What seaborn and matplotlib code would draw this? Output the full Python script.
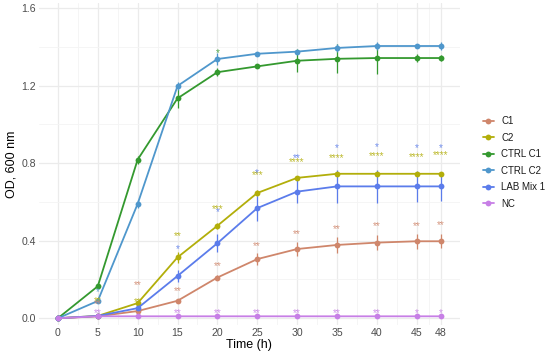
import matplotlib
matplotlib.use("Agg")
import matplotlib.pyplot as plt
import seaborn as sns
import pandas as pd
import numpy as np

sns.set_theme(style="whitegrid")
plt.rcParams['font.family'] = ['Liberation Sans', 'DejaVu Sans']

hours = [0, 5, 10, 15, 20, 25, 30, 35, 40, 45, 48]
series_names = ["C1", "C2", "CTRL C1", "CTRL C2", "LAB Mix 1", "NC"]

c1 = [0.0, 0.01, 0.037, 0.09, 0.21, 0.305, 0.357, 0.378, 0.39, 0.397, 0.397]
c2 = [0.0, 0.012, 0.078, 0.314, 0.477, 0.646, 0.724, 0.745, 0.745, 0.745, 0.745]
ctrl_c1 = [0.0, 0.165, 0.818, 1.134, 1.269, 1.299, 1.328, 1.338, 1.342, 1.342, 1.342]
ctrl_c2 = [0.0, 0.089, 0.59, 1.198, 1.337, 1.364, 1.375, 1.394, 1.404, 1.404, 1.404]
lab_mix = [0.0, 0.012, 0.052, 0.218, 0.387, 0.568, 0.653, 0.68, 0.68, 0.68, 0.68]
nc = [0.0, 0.01, 0.01, 0.01, 0.01, 0.01, 0.01, 0.01, 0.01, 0.01, 0.01]

c1_sd = [0.0, 0.003, 0.005, 0.008, 0.012, 0.03, 0.035, 0.04, 0.04, 0.038, 0.035]
c2_sd = [0.0, 0.003, 0.008, 0.03, 0.015, 0.015, 0.01, 0.01, 0.01, 0.01, 0.01]
ctrl_c1_sd = [0.0, 0.01, 0.02, 0.05, 0.02, 0.01, 0.06, 0.075, 0.08, 0.02, 0.015]
ctrl_c2_sd = [0.0, 0.01, 0.02, 0.02, 0.03, 0.01, 0.01, 0.02, 0.02, 0.01, 0.02]
lab_mix_sd = [0.0, 0.003, 0.01, 0.03, 0.045, 0.065, 0.06, 0.085, 0.085, 0.08, 0.075]
nc_sd = [0.0, 0.002, 0.002, 0.002, 0.002, 0.002, 0.002, 0.002, 0.002, 0.002, 0.002]

palette = {"C1": "#CF866B", "C2": "#B2AE0A", "CTRL C1": "#34992F",
           "CTRL C2": "#4F97CC", "LAB Mix 1": "#5B7CEB", "NC": "#C77FE6"}

# significance annotations: (series, hour, y, label)
sig_series = ["NC", "C1", "C2", "CTRL C2",
              "C2", "C1",
              "C2", "LAB Mix 1", "C1", "NC",
              "C2", "LAB Mix 1", "C1", "NC", "CTRL C1",
              "C2", "LAB Mix 1", "C1", "NC",
              "C2", "LAB Mix 1", "C1", "NC",
              "C2", "LAB Mix 1", "C1", "NC",
              "C2", "LAB Mix 1", "C1", "NC",
              "C2", "LAB Mix 1", "C1", "NC",
              "C2", "LAB Mix 1", "C1", "NC"]
sig_hours = [5, 5, 5, 5,
             10, 10,
             15, 15, 15, 15,
             20, 20, 20, 20, 20,
             25, 25, 25, 25,
             30, 30, 30, 30,
             35, 35, 35, 35,
             40, 40, 40, 40,
             45, 45, 45, 45,
             48, 48, 48, 48]
sig_y = [0.04, 0.085, 0.105, 0.15,
         0.095, 0.185,
         0.44, 0.37, 0.155, 0.04,
         0.577, 0.56, 0.283, 0.04, 1.38,
         0.75, 0.765, 0.387, 0.04,
         0.82, 0.84, 0.45, 0.04,
         0.84, 0.89, 0.473, 0.04,
         0.85, 0.896, 0.49, 0.04,
         0.846, 0.89, 0.49, 0.04,
         0.853, 0.89, 0.493, 0.04]
sig_labels = ["**", "**", "**", "*",
              "**", "**",
              "**", "*", "**", "**",
              "***", "*", "**", "**", "*",
              "***", "*", "**", "**",
              "****", "**", "**", "**",
              "****", "*", "**", "**",
              "****", "*", "**", "**",
              "****", "*", "**", "*",
              "****", "*", "**", "*"]

values = {"C1": c1, "C2": c2, "CTRL C1": ctrl_c1, "CTRL C2": ctrl_c2,
          "LAB Mix 1": lab_mix, "NC": nc}
sds = {"C1": c1_sd, "C2": c2_sd, "CTRL C1": ctrl_c1_sd, "CTRL C2": ctrl_c2_sd,
       "LAB Mix 1": lab_mix_sd, "NC": nc_sd}

rows = []
for s in series_names:
    for h, v, e in zip(hours, values[s], sds[s]):
        rows.append({"Time": h, "OD": v, "sd": e, "Group": s})
df = pd.DataFrame(rows)

fig = plt.figure(figsize=(5.5, 3.51), dpi=100)
ax = fig.add_axes([0.0705, 0.074, 0.7655, 0.917])
ax.set_facecolor("white")

sns.lineplot(data=df, x="Time", y="OD", hue="Group", hue_order=series_names,
             palette=palette, marker="o", markersize=4.2, markeredgewidth=0,
             linewidth=1.3, ax=ax, errorbar=None, legend=True)

for s in series_names:
    sub = df[df.Group == s]
    ax.errorbar(sub.Time, sub.OD, yerr=sub.sd, fmt="none", ecolor=palette[s],
                elinewidth=0.9, capsize=0, zorder=1.5)

for s, h, y, lab in zip(sig_series, sig_hours, sig_y, sig_labels):
    ax.text(h, y - 0.014, lab, color=palette[s], ha="center", va="center",
            fontsize=7.3, alpha=0.85)

ax.set_xlim(-2.4, 50.4)
ax.set_ylim(-0.035, 1.625)
ax.set_xticks(hours)
ax.set_yticks([0.0, 0.4, 0.8, 1.2, 1.6])
ax.set_yticklabels(["0.0", "0.4", "0.8", "1.2", "1.6"])
ax.set_xticks([2.5, 7.5, 12.5, 17.5, 22.5, 27.5, 32.5, 37.5, 42.5, 46.5], minor=True)
ax.set_yticks([0.2, 0.6, 1.0, 1.4], minor=True)
ax.grid(which="major", color="#ebebeb", linewidth=0.9)
ax.grid(which="minor", color="#f4f4f4", linewidth=0.6)
for sp in ax.spines.values():
    sp.set_visible(False)
ax.tick_params(axis="both", which="both", length=0, labelsize=7.6,
               labelcolor="#4d4d4d", pad=2)
ax.set_xlabel("Time (h)", fontsize=9, color="black", labelpad=1)
ax.set_ylabel("OD, 600 nm", fontsize=9, color="black", labelpad=3)

leg = ax.legend(title=None, loc="upper left", bbox_to_anchor=(1.045, 0.66),
                frameon=False, fontsize=7, handlelength=1.2, handletextpad=0.7,
                labelspacing=0.66, borderaxespad=0)
for t in leg.get_texts():
    t.set_color("#1a1a1a")

fig.savefig("out.png", dpi=100)
